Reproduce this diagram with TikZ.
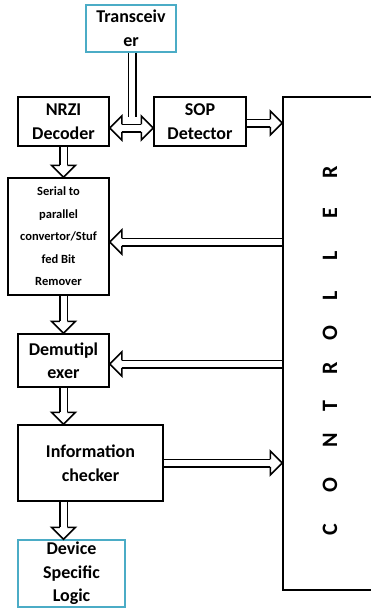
\documentclass[tikz,border=0pt]{standalone}
\usepackage{fontspec}
\setmainfont{Carlito}
\usepackage{tikz}
\usetikzlibrary{arrows.meta, positioning, calc}
\definecolor{mydark}{RGB}{0,0,0}
\definecolor{mycyan}{RGB}{75,172,198}
\pgfdeclarearrow{
  name = Hollow,
  parameters = {\the\pgfarrowlength,\the\pgfarrowwidth},
  setup code = {
    \pgfarrowssettipend{0pt}
    \pgfarrowssetlineend{-\pgfarrowlength}
    \pgfarrowssetbackend{-\pgfarrowlength}
    \pgfarrowssavethe\pgfarrowlength
    \pgfarrowssavethe\pgfarrowwidth
  },
  drawing code = {
    \pgfsetlinewidth{1.5pt}
    \pgfsetstrokecolor{mydark}
    \pgfsetmiterjoin
    \pgfpathmoveto{\pgfqpoint{-\pgfarrowlength}{3.75pt}}
    \pgfpathlineto{\pgfqpoint{-\pgfarrowlength}{.5\pgfarrowwidth}}
    \pgfpathlineto{\pgfqpoint{0pt}{0pt}}
    \pgfpathlineto{\pgfqpoint{-\pgfarrowlength}{-.5\pgfarrowwidth}}
    \pgfpathlineto{\pgfqpoint{-\pgfarrowlength}{-3.75pt}}
    \pgfusepathqstroke
  },
  defaults = {length=12pt, width=24pt}
}
\tikzset{
  block/.style={rectangle, draw=mydark, fill=white, align=center,
    inner sep=0pt, line width=1.5pt,
    font=\fontsize{18}{23.5}\selectfont\bfseries},
  cyanblock/.style={block, draw=mycyan},
  smallblock/.style={block, font=\fontsize{12.5}{22.5}\selectfont\bfseries},
  dblline/.style={double=white, double distance=6pt, line width=1.5pt, color=mydark},
  dblarrow/.style={dblline, -{Hollow}},
  dblboth/.style={dblline, {Hollow}-{Hollow}},
  ctrlletter/.style={rotate=90, font=\fontsize{22}{22}\selectfont\bfseries}
}
\begin{document}
\begin{tikzpicture}[x=1pt, y=-1pt]
  \clip (0,0) rectangle (371,610);
  \node[cyanblock, minimum width=90pt, minimum height=47pt] (trx) at (131,28.5) {Transceiv\\er};
  \node[block, minimum width=91pt, minimum height=49pt] (nrzi) at (63.5,121.5) {NRZI\\Decoder};
  \node[block, minimum width=92pt, minimum height=49pt] (sop) at (200,121.5) {SOP\\Detector};
  \node[block, minimum width=104pt, minimum height=493pt] (ctrl) at (335,343.5) {};
  \node[smallblock, minimum width=101pt, minimum height=117pt] (ser) at (58.5,236.5) {Serial to\\parallel\\convertor/Stuf\\fed Bit\\Remover};
  \node[block, minimum width=91pt, minimum height=53pt] (demux) at (63.5,360.5) {Demutipl\\exer};
  \node[block, minimum width=145pt, minimum height=76pt] (info) at (90.5,463) {Information\\checker};
  \node[cyanblock, minimum width=107pt, minimum height=67pt] (dev) at (71.5,573.5) {Device\\Specific\\Logic};
  \foreach \l/\y in {C/530, O/485, N/440, T/406, R/368, O/333, L/296, L/256, E/213, R/172}
    \node[ctrlletter] at (330,\y) {\l};
  \coordinate (mid) at (132,128);
  \coordinate (tap) at (132,117);
  \draw[dblline] (trx.south -| tap) -- (tap);
  \draw[dblboth] (nrzi.east |- mid) -- (sop.west |- mid);
  \draw[dblarrow] (sop.east |- 0,123) -- (ctrl.west |- 0,123);
  \draw[dblarrow] (nrzi.south) -- (nrzi.south |- ser.north);
  \draw[dblarrow] (ctrl.west |- 0,242) -- (ser.east |- 0,242);
  \draw[dblarrow] (ser.south -| nrzi.south) -- (demux.north);
  \draw[dblarrow] (ctrl.west |- 0,364) -- (demux.east |- 0,364);
  \draw[dblarrow] (demux.south) -- (demux.south |- info.north);
  \draw[dblarrow] (info.east) -- (ctrl.west |- info.east);
  \draw[dblarrow] (info.south -| demux.south) -- (demux.south |- dev.north);
\end{tikzpicture}
\end{document}
